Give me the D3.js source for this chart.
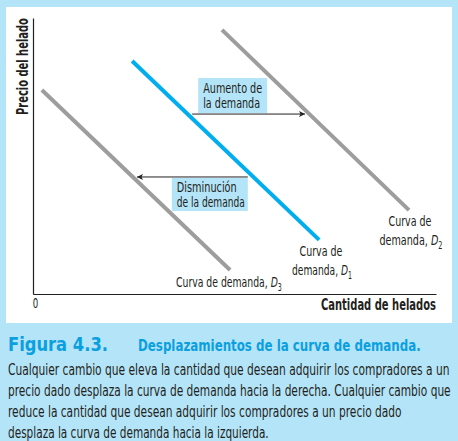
<!DOCTYPE html>
<html><head><meta charset="utf-8">
<script src="https://cdn.jsdelivr.net/npm/d3@7"></script>
<style>
html,body{margin:0;padding:0;background:#b4e4f8;}
svg{display:block;}
.nar{font-family:"Liberation Sans Narrow","Arial Narrow","DejaVu Sans Condensed","Liberation Sans",sans-serif;font-stretch:condensed;}
</style></head>
<body><svg id="c" width="458" height="441"></svg>
<script>
// ---- data ----
const curveNames = ["D3", "D1", "D2"];
const curveQ0 = [2.2, 24.6, 46.9];
const curveP0 = [73.9, 84.4, 95.7];
const curveQ1 = [48.9, 71.0, 93.3];
const curveP1 = [8.7, 19.6, 30.4];
const curveColors = ["#9d9d9d", "#00aeef", "#9d9d9d"];

const shiftLabels = [["Aumento de", "la demanda"], ["Disminución", "de la demanda"]];
const shiftPrice = [65.2, 42.4];
const shiftFrom = [39.5, 53.3];
const shiftTo = [67.5, 25.8];

const xTitle = "Cantidad de helados";
const yTitle = "Precio del helado";
const originLabel = "0";
const figNum = "Figura 4.3.";
const figTitle = "Desplazamientos de la curva de demanda.";
const bodyLines = [
  "Cualquier cambio que eleva la cantidad que desean adquirir los compradores a un",
  "precio dado desplaza la curva de demanda hacia la derecha. Cualquier cambio que",
  "reduce la cantidad que desean adquirir los compradores a un precio dado",
  "desplaza la curva de demanda hacia la izquierda."
];

// ---- drawing ----
const svg = d3.select("#c");
const ink = "#231f20";
const bg = "#b4e4f8";
svg.append("rect").attr("width", 458).attr("height", 441).attr("fill", bg);
svg.append("rect").attr("x", 6).attr("y", 7).attr("width", 446).attr("height", 316).attr("fill", "#fff");

const x = d3.scaleLinear().domain([0, 100]).range([33, 436]);
const y = d3.scaleLinear().domain([0, 100]).range([294, 18]);

// text helper: places text at (tx,ty) with anchor, squeezed horizontally to width w
function fitText(parent, tx, ty, w, anchor, size, parts, opts = {}) {
  const g = parent.append("g");
  const t = g.append("text").attr("class", "nar").attr("font-size", size)
    .attr("fill", opts.fill || ink).attr("font-weight", opts.bold ? "bold" : null);
  if (opts.family) t.attr("font-family", opts.family).attr("class", null);
  parts.forEach(p => {
    const s = t.append("tspan").text(p.text);
    if (p.italic) s.attr("font-style", "italic");
    if (p.sub) s.attr("font-size", size * 0.68).attr("dy", 4);
  });
  const bw = t.node().getComputedTextLength();
  const k = w / bw;
  const off = anchor === "end" ? -w : anchor === "middle" ? -w / 2 : 0;
  const rot = opts.rotate ? ` rotate(${opts.rotate})` : "";
  g.attr("transform", `translate(${tx},${ty})${rot} translate(${off},0) scale(${k},1)`);
  return g;
}

// axes
svg.append("g").attr("transform", `translate(0,${y(0)})`)
  .call(d3.axisBottom(x).tickValues([]).tickSizeOuter(0))
  .call(g => g.select(".domain").attr("stroke", ink).attr("stroke-width", 1.2));
svg.append("g").attr("transform", `translate(${x(0)},0)`)
  .call(d3.axisLeft(y).tickValues([]).tickSizeOuter(0))
  .call(g => g.select(".domain").attr("stroke", ink).attr("stroke-width", 1.2));

fitText(svg, x(0) + 2.5, 308, 5.5, "middle", 13.5, [{text: originLabel}]);
fitText(svg, x(100), 310, 115, "end", 15, [{text: xTitle}], {bold: true});
fitText(svg, 28, y(100), 97, "end", 15, [{text: yTitle}], {bold: true, rotate: -90});

// curves
const line = d3.line().x(d => x(d[0])).y(d => y(d[1]));
curveNames.forEach((n, i) => {
  svg.append("path")
    .attr("d", line([[curveQ0[i], curveP0[i]], [curveQ1[i], curveP1[i]]]))
    .attr("stroke", curveColors[i]).attr("stroke-width", 4).attr("fill", "none");
});

// arrow marker
svg.append("defs").append("marker").attr("id", "ah")
  .attr("viewBox", "0 0 10 10").attr("refX", 10).attr("refY", 5)
  .attr("markerWidth", 9).attr("markerHeight", 6).attr("markerUnits", "userSpaceOnUse")
  .attr("orient", "auto")
  .append("path").attr("d", "M0,0 L10,5 L0,10 L2.5,5 Z").attr("fill", ink);

// shifts
const boxTextW = [[59, 57], [60, 68]];
shiftLabels.forEach((lab, i) => {
  const yy = y(shiftPrice[i]);
  const x0 = x(shiftFrom[i]), x1 = x(shiftTo[i]);
  let bx, by, bw, bh;
  if (x1 > x0) { bx = x0 + 6; bw = 69; by = yy - 36; bh = 35; }
  else { bw = 76; bx = x0 - bw; by = yy + 1; bh = 33; }
  svg.append("rect").attr("x", bx).attr("y", by).attr("width", bw).attr("height", bh).attr("fill", bg);
  lab.forEach((t, k) => {
    fitText(svg, bx + 5, by + 14.5 + k * 15, boxTextW[i][k], "start", 13.5, [{text: t}]);
  });
  svg.append("line").attr("x1", x0).attr("x2", x1).attr("y1", yy).attr("y2", yy)
    .attr("stroke", ink).attr("stroke-width", 1).attr("marker-end", "url(#ah)");
});

// curve labels
const sub = n => n.slice(1);
fitText(svg, 176, 287, 106, "start", 14.5,
  [{text: "Curva de demanda, "}, {text: "D", italic: true}, {text: sub(curveNames[0]), sub: true}]);
fitText(svg, 321, 256, 43, "middle", 14.5, [{text: "Curva de"}]);
fitText(svg, 322, 275, 60, "middle", 14.5,
  [{text: "demanda, "}, {text: "D", italic: true}, {text: sub(curveNames[1]), sub: true}]);
fitText(svg, 410, 226, 43, "middle", 14.5, [{text: "Curva de"}]);
fitText(svg, 411, 245, 63, "middle", 14.5,
  [{text: "demanda, "}, {text: "D", italic: true}, {text: sub(curveNames[2]), sub: true}]);

// caption
fitText(svg, 8, 351, 100, "start", 20, [{text: figNum}],
  {bold: true, fill: "#0aa0e0", family: "'DejaVu Sans', sans-serif"});
fitText(svg, 138, 351, 283, "start", 16.5, [{text: figTitle}], {bold: true, fill: "#0aa0e0"});

const bodyWidths = [442, 443, 394, 261];
bodyLines.forEach((t, k) => {
  fitText(svg, 8, 375 + k * 21, bodyWidths[k], "start", 16.5, [{text: t}]);
});
</script></body></html>
